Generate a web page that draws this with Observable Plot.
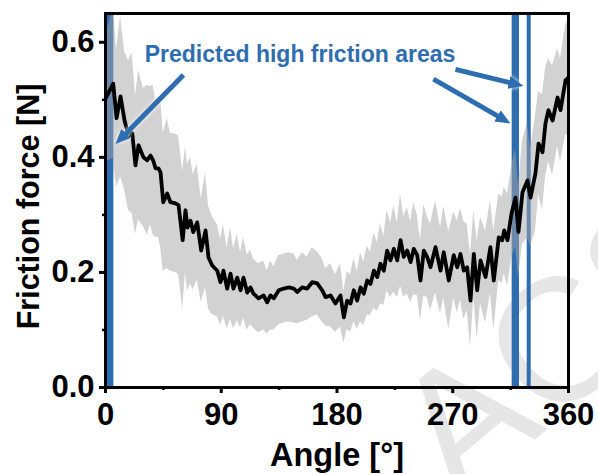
<!DOCTYPE html>
<html>
<head>
<meta charset="utf-8">
<script src="https://cdn.jsdelivr.net/npm/d3@7"></script>
<script src="https://cdn.jsdelivr.net/npm/@observablehq/plot@0.6"></script>
<style>
  html, body { margin: 0; padding: 0; background: #fff; }
  #chart svg { display: block; }
</style>
</head>
<body>
<div id="chart"></div>
<script>
// Rotation angle (degrees) of each friction measurement
const angle = [
  0, 6.0, 8.6, 11.7, 14.8, 17.9, 20.8, 23.3, 25.7, 29.5,
  32.4, 35.0, 37.0, 38.9, 41.2, 42.8, 44.9, 48.0, 50.5, 54.4,
  56.8, 60.0, 62.2, 63.8, 66.1, 68.2, 71.3, 74.4, 77.8, 80.1,
  83.0, 86.9, 89.4, 91.7, 94.6, 97.2, 99.5, 102.4, 105.0, 107.3,
  110.2, 112.7, 115.1, 119.0, 122.9, 125.7, 128.3, 130.9, 134.7, 138.6,
  142.5, 146.4, 149.0, 153.0, 156.8, 160.7, 164.6, 168.5, 171.1, 175.0,
  178.8, 182.7, 185.3, 187.9, 190.5, 193.1, 195.7, 198.3, 200.8, 203.5,
  206.0, 208.7, 211.3, 213.8, 216.4, 219.0, 221.6, 224.2, 226.8, 229.4,
  231.9, 234.6, 237.2, 239.7, 242.4, 244.9, 247.5, 250.1, 252.7, 256.6,
  260.5, 263.0, 266.9, 270.8, 273.5, 276.0, 278.6, 281.2, 283.8, 286.4,
  289.0, 291.6, 295.5, 299.3, 301.9, 305.8, 308.5, 310.0, 312.6, 315.7,
  318.8, 321.1, 324.2, 328.1, 330.5, 334.3, 336.7, 339.8, 342.1, 344.4,
  347.6, 351.5, 353.8, 357.7, 360
];

// Mean friction force [N]
const force = [
  0.502, 0.528, 0.468, 0.506, 0.464, 0.438, 0.442, 0.386, 0.421, 0.400,
  0.395, 0.403, 0.395, 0.381, 0.381, 0.374, 0.322, 0.337, 0.322, 0.320,
  0.317, 0.256, 0.308, 0.278, 0.290, 0.270, 0.287, 0.238, 0.273, 0.226,
  0.212, 0.203, 0.183, 0.203, 0.172, 0.198, 0.172, 0.191, 0.169, 0.191,
  0.165, 0.174, 0.163, 0.155, 0.160, 0.148, 0.160, 0.155, 0.169, 0.172,
  0.174, 0.172, 0.166, 0.174, 0.172, 0.183, 0.181, 0.169, 0.157, 0.160,
  0.146, 0.160, 0.122, 0.151, 0.146, 0.169, 0.151, 0.174, 0.163, 0.186,
  0.180, 0.203, 0.192, 0.215, 0.203, 0.238, 0.221, 0.241, 0.221, 0.256,
  0.227, 0.238, 0.218, 0.241, 0.230, 0.186, 0.238, 0.227, 0.209, 0.244,
  0.203, 0.235, 0.186, 0.230, 0.209, 0.232, 0.203, 0.209, 0.151, 0.232,
  0.169, 0.221, 0.192, 0.244, 0.186, 0.261, 0.256, 0.273, 0.256, 0.303,
  0.330, 0.270, 0.339, 0.360, 0.330, 0.372, 0.424, 0.409, 0.459, 0.482,
  0.464, 0.504, 0.482, 0.534, 0.539
];

// Standard deviation of the friction force [N]
const sd = [
  0.11, 0.13, 0.12, 0.14, 0.12, 0.13, 0.14, 0.12, 0.13, 0.12,
  0.13, 0.12, 0.13, 0.12, 0.12, 0.13, 0.12, 0.13, 0.12, 0.12,
  0.12, 0.12, 0.11, 0.11, 0.11, 0.10, 0.10, 0.09, 0.10, 0.09,
  0.085, 0.08, 0.075, 0.08, 0.07, 0.08, 0.07, 0.075, 0.065, 0.07,
  0.065, 0.065, 0.06, 0.06, 0.06, 0.055, 0.06, 0.055, 0.06, 0.06,
  0.06, 0.06, 0.055, 0.06, 0.055, 0.06, 0.055, 0.055, 0.05, 0.055,
  0.05, 0.055, 0.045, 0.05, 0.05, 0.055, 0.05, 0.06, 0.055, 0.06,
  0.055, 0.065, 0.06, 0.07, 0.06, 0.07, 0.065, 0.075, 0.065, 0.08,
  0.07, 0.075, 0.07, 0.08, 0.07, 0.07, 0.08, 0.07, 0.075, 0.08,
  0.075, 0.08, 0.085, 0.075, 0.08, 0.08, 0.085, 0.075, 0.08, 0.075,
  0.085, 0.075, 0.08, 0.08, 0.085, 0.075, 0.075, 0.075, 0.08, 0.08,
  0.085, 0.08, 0.09, 0.10, 0.085, 0.10, 0.09, 0.10, 0.095, 0.09,
  0.095, 0.085, 0.09, 0.095, 0.10
];

// Predicted high-friction angle ranges (degrees)
const zoneStart = [1.5, 316.2, 327.9];
const zoneEnd   = [6.5, 321.9, 331.0];

// Annotation arrows: tail and head positions in (angle, force)
const arrowTailAngle = [60.6, 272.1, 255.0];
const arrowTailForce = [0.543, 0.553, 0.536];
const arrowHeadAngle = [7.8, 325.0, 314.9];
const arrowHeadForce = [0.423, 0.524, 0.459];

const noteText = ["Predicted high friction areas"];
const noteAngle = [30.5];
const noteForce = [0.578];

const xTicks = [0, 90, 180, 270, 360];
const xMinorTicks = [45, 135, 225, 315];
const yTicks = [0, 0.2, 0.4, 0.6];
const yMinorTicks = [0.1, 0.3, 0.5];

const xLabel = "Angle [°]";
const yLabel = "Friction force [N]";
const watermark = "ACS";

const rows = angle.map((a, i) => ({angle: a, force: force[i], sd: sd[i]}));
const zones = zoneStart.map((s, i) => ({x1: s, x2: zoneEnd[i]}));
const arrows = arrowTailAngle.map((a, i) => ({
  x1: a, y1: arrowTailForce[i], x2: arrowHeadAngle[i], y2: arrowHeadForce[i]
}));
const notes = noteText.map((t, i) => ({text: t, angle: noteAngle[i], force: noteForce[i]}));

const blue = "#2e6db0";
const font = "Arial, 'Liberation Sans', Helvetica, sans-serif";

const chart = Plot.plot({
  width: 598,
  height: 474,
  marginLeft: 105,
  marginRight: 30,
  marginTop: 13,
  marginBottom: 87,
  x: {domain: [0, 360]},
  y: {domain: [0, 0.65]},
  style: {fontFamily: font, fontWeight: "bold", background: "white", color: "black"},
  marks: [
    Plot.text([watermark], {
      text: d => d, frameAnchor: "bottom-right", dx: -110, dy: 116, rotate: -40,
      textAnchor: "start", lineAnchor: "bottom", fontSize: 175,
      fontWeight: "normal", fill: "#e6e6e6"
    }),
    Plot.barX(zones, {x1: "x1", x2: "x2", fill: blue}),
    Plot.areaY(rows, {
      x: "angle", y1: d => d.force - d.sd, y2: d => d.force + d.sd,
      fill: "#a6a6a6", fillOpacity: 0.5, clip: true
    }),
    Plot.lineY(rows, {x: "angle", y: "force", stroke: "black", strokeWidth: 3.8, clip: true}),
    Plot.link(arrows, {x1: "x1", y1: "y1", x2: "x2", y2: "y2", stroke: blue, strokeWidth: 5}),
    Plot.text(notes, {
      x: "angle", y: "force", text: "text", textAnchor: "start",
      fill: blue, fontSize: 23
    }),
    Plot.axisX({ticks: xTicks, tickSize: 6, tickPadding: 9, strokeWidth: 3, fontSize: 31, label: null}),
    Plot.axisX({ticks: xMinorTicks, tickSize: 3, strokeWidth: 2.5, tickFormat: () => "", label: null}),
    Plot.axisY({ticks: yTicks, tickSize: 6, tickPadding: 5, strokeWidth: 3, fontSize: 31,
      tickFormat: d3.format(".1f"), label: null}),
    Plot.axisY({ticks: yMinorTicks, tickSize: 3, strokeWidth: 2.5, tickFormat: () => "", label: null}),
    Plot.text([xLabel], {text: d => d, frameAnchor: "bottom", dy: 68, lineAnchor: "middle",
      textAnchor: "middle", fontSize: 32.5}),
    Plot.text([yLabel], {text: d => d, frameAnchor: "left", dx: -76, dy: 6, rotate: -90,
      lineAnchor: "middle", textAnchor: "middle", fontSize: 30.5}),
    Plot.frame({stroke: "black", strokeWidth: 3})
  ]
});

document.getElementById("chart").append(chart);

// Filled arrowheads for the annotation links
const svg = d3.select(chart);
svg.append("defs")
  .append("marker")
  .attr("id", "arrowhead")
  .attr("viewBox", "0 0 15 13")
  .attr("refX", 15)
  .attr("refY", 6.5)
  .attr("markerWidth", 15)
  .attr("markerHeight", 13)
  .attr("markerUnits", "userSpaceOnUse")
  .attr("orient", "auto")
  .append("path")
  .attr("d", "M0,0L15,6.5L0,13Z")
  .attr("fill", blue);

svg.selectAll('g[aria-label="link"]').style("filter", "drop-shadow(0 0 2px white)");
svg.selectAll('g[aria-label="link"] path').each(function () {
  const len = this.getTotalLength();
  d3.select(this)
    .attr("marker-end", "url(#arrowhead)")
    .attr("stroke-dasharray", `${Math.max(0, len - 9)} ${len}`);
});
</script>
</body>
</html>
